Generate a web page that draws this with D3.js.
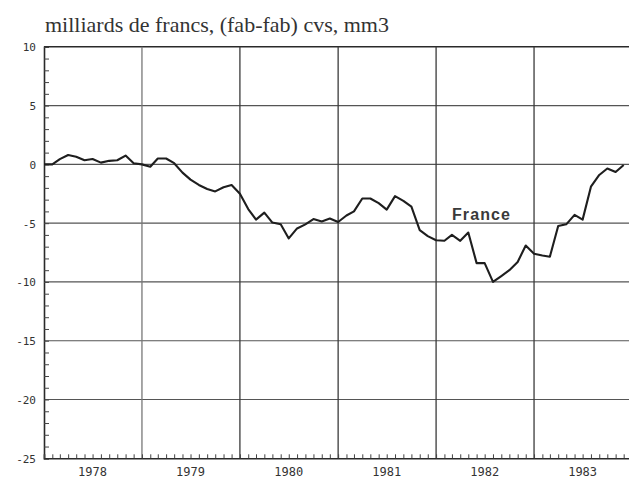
<!DOCTYPE html>
<html><head><meta charset="utf-8">
<script src="https://cdn.jsdelivr.net/npm/d3@7"></script>
<style>html,body{margin:0;padding:0;background:#fff;}svg{display:block;}</style>
</head><body>
<svg id="c" width="629" height="478"></svg>
<script>
const title = "milliards de francs, (fab-fab) cvs, mm3";
const seriesName = "France";
const years = [1978, 1979, 1980, 1981, 1982, 1983];
const yTickLabels = [10, 5, 0, -5, -10, -15, -20, -25];
const gridValues = [5, 0, -5, -10, -15, -20];
// monthly values, Jan 1978 .. Dec 1983
const values = [
  0.0, 0.0, 0.45, 0.8, 0.65, 0.35, 0.45, 0.15, 0.3, 0.35, 0.75, 0.1,
  0.0, -0.2, 0.5, 0.5, 0.1, -0.7, -1.3, -1.75, -2.1, -2.3, -1.95, -1.75,
  -2.5, -3.8, -4.7, -4.1, -4.95, -5.1, -6.3, -5.45, -5.1, -4.65, -4.85, -4.6,
  -4.9, -4.35, -4.0, -2.9, -2.9, -3.3, -3.85, -2.7, -3.1, -3.6, -5.6, -6.1,
  -6.45, -6.5, -6.0, -6.5, -5.8, -8.4, -8.4, -10.0, -9.5, -9.0, -8.3, -6.9,
  -7.6, -7.75, -7.85, -5.25, -5.1, -4.3, -4.7, -1.9, -0.9, -0.35, -0.65, -0.05
];
const dates = values.map((v, i) => new Date(years[0], i, 1));

const svg = d3.select("#c");
const x = d3.scaleTime().domain([new Date(1978, 0, 1), new Date(1984, 0, 1)]).range([44, 632]);
const y = d3.scaleLinear().domain([-25, 10]).range([458.3, 46.8]);
const ink = "#2a2a2a";

// title
svg.append("text").attr("x", 45).attr("y", 32)
  .attr("font-family", "Liberation Serif, Times New Roman, serif").attr("font-size", 22)
  .attr("fill", "#333").text(title);

// horizontal grid
svg.append("g").selectAll("line").data(gridValues).join("line")
  .attr("x1", 44).attr("x2", 629).attr("y1", d => y(d)).attr("y2", d => y(d))
  .attr("stroke", "#555").attr("stroke-width", 1.2);
// top border
svg.append("line").attr("x1", 44).attr("x2", 629).attr("y1", y(10)).attr("y2", y(10))
  .attr("stroke", ink).attr("stroke-width", 1.6);

// vertical year boundaries
svg.append("g").selectAll("line").data(years.slice(1)).join("line")
  .attr("x1", d => x(new Date(d, 0, 1))).attr("x2", d => x(new Date(d, 0, 1)))
  .attr("y1", y(10)).attr("y2", y(-25))
  .attr("stroke", (d, i) => i === 0 ? "#777" : "#3a3a3a").attr("stroke-width", 1.3);

// left axis minor ticks (inside)
const gL = svg.append("g").attr("transform", `translate(44,0)`)
  .call(d3.axisRight(y).tickValues(d3.range(-25, 11, 1)).tickSize(5).tickFormat(""));
gL.select(".domain").attr("stroke", ink).attr("stroke-width", 1.6);
gL.selectAll(".tick line").attr("stroke", "#444");

// left labels
const gLab = svg.append("g").attr("transform", `translate(36,0)`)
  .call(d3.axisLeft(y).tickValues(yTickLabels).tickSize(0).tickPadding(0).tickFormat(d => String(d)));
gLab.select(".domain").remove();
gLab.selectAll("text").attr("font-family", "DejaVu Sans Mono, monospace").attr("font-size", 11)
  .attr("fill", "#333").attr("dy", "0.35em");

// bottom axis monthly ticks (pointing up)
const gB = svg.append("g").attr("transform", `translate(0,${y(-25)})`)
  .call(d3.axisTop(x).ticks(d3.timeMonth.every(1)).tickSize(4).tickFormat(""));
gB.select(".domain").attr("stroke", ink).attr("stroke-width", 1.6);
gB.selectAll(".tick line").attr("stroke", "#444");

// year labels
svg.append("g").selectAll("text").data(years).join("text")
  .attr("x", d => x(new Date(d, 6, 1)))
  .attr("y", 476)
  .attr("text-anchor", "middle")
  .attr("font-family", "DejaVu Sans Mono, monospace").attr("font-size", 12)
  .attr("fill", "#333").text(d => d);

// series line
svg.append("path").datum(values)
  .attr("fill", "none").attr("stroke", "#1e1e1e").attr("stroke-width", 2.1)
  .attr("stroke-linejoin", "round")
  .attr("d", d3.line().x((d, i) => x(dates[i])).y(d => y(d)));

// series label
svg.append("text").attr("x", 452).attr("y", 220)
  .attr("font-family", "Liberation Sans, Arial, sans-serif").attr("font-weight", "bold")
  .attr("font-size", 16).attr("letter-spacing", 1.1)
  .attr("fill", "#3a3a3a").text(seriesName);
</script>
</body></html>
